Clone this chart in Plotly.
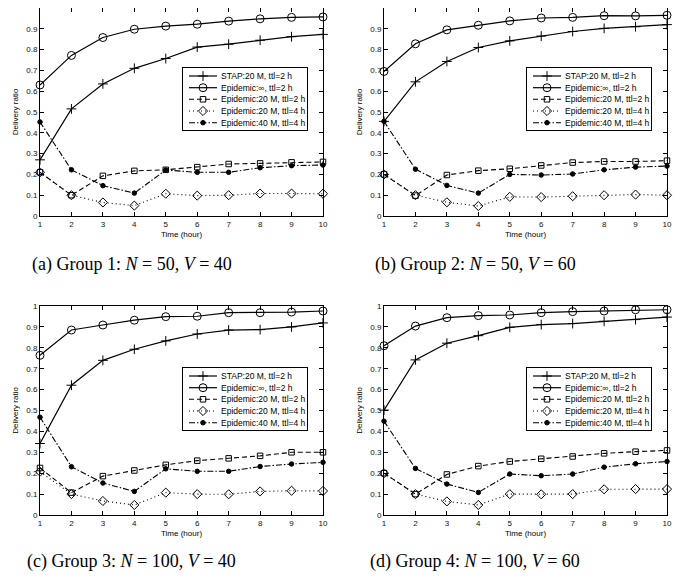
import plotly.graph_objects as go

# ---------------- data ----------------
hours = [1, 2, 3, 4, 5, 6, 7, 8, 9, 10]
x_tick_vals = [1, 2, 3, 4, 5, 6, 7, 8, 9, 10]
y_tick_vals = [0, 0.1, 0.2, 0.3, 0.4, 0.5, 0.6, 0.7, 0.8, 0.9, 1]
y_tick_labels = ["0", "0.1", "0.2", "0.3", "0.4", "0.5", "0.6", "0.7", "0.8", "0.9", "1"]
series_names = ["STAP:20 M, ttl=2 h", "Epidemic:\u221e, ttl=2 h", "Epidemic:20 M, ttl=2 h",
                "Epidemic:20 M, ttl=4 h", "Epidemic:40 M, ttl=4 h"]
captions = ["(a) Group 1: <i>N</i> = 50, <i>V</i> = 40",
            "(b) Group 2: <i>N</i> = 50, <i>V</i> = 60",
            "(c) Group 3: <i>N</i> = 100, <i>V</i> = 40",
            "(d) Group 4: <i>N</i> = 100, <i>V</i> = 60"]
x_title = "Time (hour)"
y_title = "Delivery ratio"

# Group 1
g1_stap = [0.27, 0.515, 0.635, 0.71, 0.757, 0.812, 0.826, 0.845, 0.862, 0.873]
g1_epi_inf = [0.63, 0.772, 0.858, 0.898, 0.913, 0.922, 0.937, 0.948, 0.955, 0.957]
g1_epi20_2 = [0.21, 0.10, 0.193, 0.217, 0.222, 0.235, 0.25, 0.253, 0.258, 0.26]
g1_epi20_4 = [0.21, 0.10, 0.065, 0.05, 0.107, 0.098, 0.10, 0.108, 0.108, 0.107]
g1_epi40_4 = [0.452, 0.222, 0.146, 0.11, 0.221, 0.21, 0.21, 0.232, 0.242, 0.245]
# Group 2
g2_stap = [0.455, 0.645, 0.743, 0.81, 0.842, 0.865, 0.887, 0.902, 0.91, 0.92]
g2_epi_inf = [0.695, 0.828, 0.895, 0.917, 0.938, 0.952, 0.955, 0.963, 0.962, 0.965]
g2_epi20_2 = [0.20, 0.098, 0.197, 0.218, 0.227, 0.243, 0.257, 0.262, 0.262, 0.266]
g2_epi20_4 = [0.20, 0.10, 0.066, 0.048, 0.092, 0.091, 0.095, 0.10, 0.103, 0.10]
g2_epi40_4 = [0.455, 0.225, 0.147, 0.11, 0.20, 0.197, 0.202, 0.222, 0.235, 0.24]
# Group 3
g3_stap = [0.342, 0.621, 0.74, 0.793, 0.833, 0.866, 0.885, 0.887, 0.90, 0.919]
g3_epi_inf = [0.764, 0.885, 0.909, 0.932, 0.949, 0.951, 0.968, 0.968, 0.971, 0.976]
g3_epi20_2 = [0.225, 0.107, 0.186, 0.213, 0.24, 0.26, 0.271, 0.283, 0.30, 0.30]
g3_epi20_4 = [0.207, 0.10, 0.067, 0.048, 0.107, 0.10, 0.099, 0.113, 0.116, 0.115]
g3_epi40_4 = [0.468, 0.231, 0.153, 0.113, 0.221, 0.209, 0.209, 0.232, 0.244, 0.252]
# Group 4
g4_stap = [0.502, 0.742, 0.822, 0.858, 0.898, 0.911, 0.916, 0.927, 0.935, 0.947]
g4_epi_inf = [0.81, 0.904, 0.944, 0.954, 0.957, 0.968, 0.973, 0.976, 0.982, 0.982]
g4_epi20_2 = [0.20, 0.10, 0.194, 0.234, 0.256, 0.269, 0.28, 0.295, 0.303, 0.309]
g4_epi20_4 = [0.20, 0.10, 0.065, 0.048, 0.10, 0.099, 0.10, 0.123, 0.124, 0.124]
g4_epi40_4 = [0.449, 0.223, 0.148, 0.108, 0.196, 0.188, 0.196, 0.229, 0.245, 0.256]

groups = [
    [g1_stap, g1_epi_inf, g1_epi20_2, g1_epi20_4, g1_epi40_4],
    [g2_stap, g2_epi_inf, g2_epi20_2, g2_epi20_4, g2_epi40_4],
    [g3_stap, g3_epi_inf, g3_epi20_2, g3_epi20_4, g3_epi40_4],
    [g4_stap, g4_epi_inf, g4_epi20_2, g4_epi20_4, g4_epi40_4],
]

# ---------------- styles ----------------
W, H = 688, 579
OFF = 8  # page body margin compensation
FONT = "Liberation Sans, Arial, sans-serif"
SERIF = "Liberation Serif, Times New Roman, serif"
styles = [
    dict(dash="solid", symbol="cross-thin-open", size=7, lw=1.2),
    dict(dash="solid", symbol="circle-open", size=8, lw=1.2),
    dict(dash="5px,3px", symbol="square-open", size=5.5, lw=1.1),
    dict(dash="1px,3px", symbol="diamond-open", size=7, lw=1.1),
    dict(dash="6px,2px,1.5px,2px", symbol="circle", size=4.5, lw=1.1),
]

# plot area pixel boxes (left, top, right, bottom) in the target picture
boxes = [(40, 6, 323, 216), (384, 6, 667, 216), (40, 306, 323, 515), (384, 306, 667, 515)]
# legend box relative to plot area (left, top, right, bottom)
leg_rel = (143, 62, 267, 124)
leg_rows = [8, 19.7, 31.3, 43, 54.7]
caption_pos = [(132, 264), (475, 264), (131, 561), (475, 561)]
xtitle_gap = 18  # px below plot bottom to x-title centre


def px(xp):
    return min(max((xp - OFF) / W, 0.0), 1.0)


def py(yp):
    return min(max(1 - (yp - OFF) / H, 0.0), 1.0)


fig = go.Figure()
layout = dict(width=W, height=H, margin=dict(l=0, r=0, t=0, b=0, autoexpand=False),
              paper_bgcolor="white", plot_bgcolor="white", showlegend=False,
              font=dict(family=FONT, size=8, color="black"))
annotations = []

for k, (box, data) in enumerate(zip(boxes, groups)):
    i = k + 1
    sfx = "" if i == 1 else str(i)
    l, t, r, b = box
    xd = [px(l), px(r)]
    yd = [py(b), py(t)]
    layout["xaxis" + sfx] = dict(domain=xd, anchor="y" + sfx, range=[1, 10], automargin=False,
                                 tickvals=x_tick_vals, ticks="inside", ticklen=4,
                                 tickwidth=1, tickcolor="black", showline=True, linecolor="black",
                                 linewidth=1, mirror="ticks", showgrid=False, zeroline=False,
                                 tickfont=dict(size=8, family=FONT, color="#111"))
    layout["yaxis" + sfx] = dict(domain=yd, anchor="x" + sfx, range=[0, 1], automargin=False,
                                 tickvals=y_tick_vals, ticktext=y_tick_labels, ticks="inside", ticklen=4,
                                 tickwidth=1, tickcolor="black", showline=True, linecolor="black",
                                 linewidth=1, mirror="ticks", showgrid=False, zeroline=False,
                                 tickfont=dict(size=8, family=FONT, color="#111"),
                                 title=dict(text=y_title, font=dict(size=8, family=FONT), standoff=6))
    annotations.append(dict(x=px((l + r) / 2), y=py(b + xtitle_gap), xref="paper", yref="paper",
                            text=x_title, showarrow=False, xanchor="center", yanchor="middle",
                            font=dict(size=8, family=FONT, color="black")))
    for s, (vals, st) in enumerate(zip(data, styles)):
        fig.add_trace(go.Scatter(
            x=hours, y=vals, mode="lines+markers", xaxis="x" + sfx, yaxis="y" + sfx,
            line=dict(color="black", width=st["lw"], dash=st["dash"]),
            marker=dict(symbol=st["symbol"], size=st["size"], color="black",
                        line=dict(color="black", width=1)),
            cliponaxis=False, name=series_names[s]))

    # legend drawn on an overlay axis
    j = i + 4
    lsfx = str(j)
    ll, lt, lr, lb = leg_rel
    lxd = [px(l + ll), px(l + lr)]
    lyd = [py(t + lb), py(t + lt)]
    layout["xaxis" + lsfx] = dict(domain=lxd, anchor="y" + lsfx, range=[0, lr - ll], automargin=False,
                                  showline=True, linecolor="black", linewidth=1, mirror=True,
                                  showticklabels=False, ticks="", showgrid=False, zeroline=False,
                                  fixedrange=True)
    layout["yaxis" + lsfx] = dict(domain=lyd, anchor="x" + lsfx, range=[lb - lt, 0], automargin=False,
                                  showline=True, linecolor="black", linewidth=1, mirror=True,
                                  showticklabels=False, ticks="", showgrid=False, zeroline=False,
                                  fixedrange=True)
    for s, st in enumerate(styles):
        yy = leg_rows[s]
        fig.add_trace(go.Scatter(x=[6, 34], y=[yy, yy], mode="lines", xaxis="x" + lsfx, yaxis="y" + lsfx,
                                 line=dict(color="black", width=st["lw"], dash=st["dash"]),
                                 hoverinfo="skip"))
        fig.add_trace(go.Scatter(x=[20], y=[yy], mode="markers", xaxis="x" + lsfx, yaxis="y" + lsfx,
                                 marker=dict(symbol=st["symbol"], size=st["size"], color="black",
                                             line=dict(color="black", width=1)),
                                 hoverinfo="skip"))
        annotations.append(dict(x=36, y=yy, xref="x" + lsfx, yref="y" + lsfx, text=series_names[s],
                                showarrow=False, xanchor="left", yanchor="middle",
                                font=dict(size=8.5, family=FONT, color="black")))

    cx, cy = caption_pos[k]
    annotations.append(dict(x=px(cx), y=py(cy), xref="paper", yref="paper", text=captions[k],
                            showarrow=False, xanchor="center", yanchor="middle",
                            font=dict(size=18, family=SERIF, color="black")))

layout["annotations"] = annotations
fig.update_layout(**layout)
fig.write_html("out.html")
